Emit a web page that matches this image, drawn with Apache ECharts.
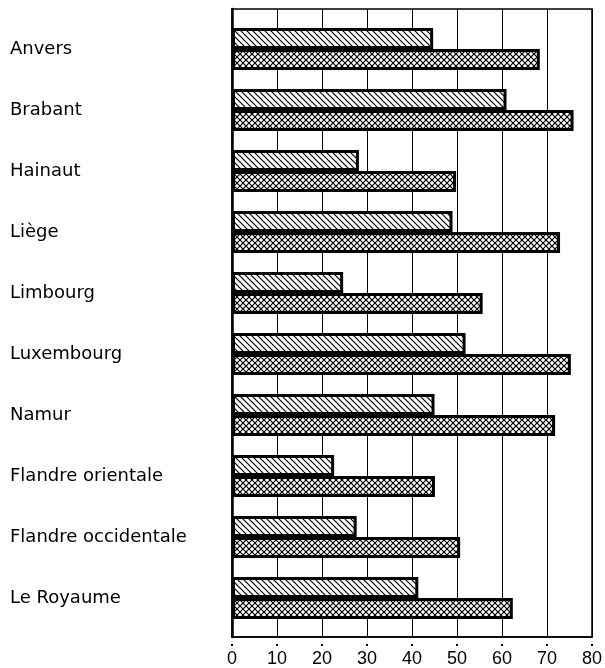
<!DOCTYPE html>
<html>
<head>
<meta charset="utf-8">
<script src="https://cdn.jsdelivr.net/npm/echarts@6/dist/echarts.min.js"></script>
<style>
  html, body { margin: 0; padding: 0; background: #fff; }
  #chart { width: 605px; height: 668px; }
</style>
</head>
<body>
<div id="chart"></div>
<script>
const provinces = ['Anvers', 'Brabant', 'Hainaut', 'Liège', 'Limbourg', 'Luxembourg',
  'Namur', 'Flandre orientale', 'Flandre occidentale', 'Le Royaume']
// hatched bars (upper) and cross-hatched bars (lower)
const hatchedValues = [44.7, 61.0, 28.2, 49.0, 24.7, 51.9, 45.0, 22.7, 27.7, 41.4]
const crossValues = [68.4, 75.9, 49.8, 72.9, 55.7, 75.3, 71.8, 45.1, 50.7, 62.4]
const xTicks = [0, 10, 20, 30, 40, 50, 60, 70, 80]

// pattern tiles drawn on small canvases
function hatchTile(size, width) {
  const c = document.createElement('canvas')
  c.width = size; c.height = size
  const ctx = c.getContext('2d')
  ctx.fillStyle = '#fff'
  ctx.fillRect(0, 0, size, size)
  ctx.strokeStyle = '#000'
  ctx.lineWidth = width
  ctx.beginPath()
  ctx.moveTo(-1, -1); ctx.lineTo(size + 1, size + 1)
  ctx.moveTo(-1, size - 1); ctx.lineTo(1, size + 1)
  ctx.moveTo(size - 1, -1); ctx.lineTo(size + 1, 1)
  ctx.stroke()
  return c
}
function crossTile(size, width) {
  const c = document.createElement('canvas')
  c.width = size; c.height = size
  const ctx = c.getContext('2d')
  ctx.fillStyle = '#fff'
  ctx.fillRect(0, 0, size, size)
  ctx.strokeStyle = '#000'
  ctx.lineWidth = width
  ctx.beginPath()
  ctx.moveTo(-1, -1); ctx.lineTo(size + 1, size + 1)
  ctx.moveTo(-1, size + 1); ctx.lineTo(size + 1, -1)
  ctx.stroke()
  return c
}

const chart = echarts.init(document.getElementById('chart'))
chart.setOption({
  animation: false,
  grid: [
    // bars
    { left: 232, right: 13, top: 18.5, height: 610 },
    // frame, grid lines and x labels
    { left: 232, right: 13, top: 9, bottom: 31, show: true, borderColor: '#000', borderWidth: 1.5, z: 0 }
  ],
  xAxis: [{
    gridIndex: 0,
    type: 'value',
    min: 0,
    max: 80,
    show: false
  }, {
    gridIndex: 1,
    type: 'value',
    min: 0,
    max: 80,
    interval: 10,
    axisLine: { show: true, lineStyle: { color: '#000', width: 1.5 } },
    axisTick: { show: true, length: 10, lineStyle: { color: '#000', width: 2, type: [0.1, 7, 2, 10] } },
    splitLine: { show: true, lineStyle: { color: '#000', width: 1 } },
    axisLabel: {
      margin: 13,
      color: '#000',
      fontFamily: 'Liberation Sans',
      fontSize: 18,
      formatter: v => xTicks.includes(v) ? String(v) : ''
    }
  }],
  yAxis: [{
    gridIndex: 0,
    type: 'category',
    inverse: true,
    data: provinces,
    axisLine: { show: false },
    axisTick: { show: false },
    splitLine: { show: false },
    axisLabel: {
      align: 'left',
      margin: 222,
      verticalAlign: 'middle',
      color: '#000',
      fontFamily: 'DejaVu Sans',
      fontSize: 18,
      padding: [0, 0, 3, 0]
    }
  }, {
    gridIndex: 1,
    type: 'value',
    min: 0,
    max: 1,
    axisLine: { show: true, lineStyle: { color: '#000', width: 2.5 } },
    axisTick: { show: false },
    axisLabel: { show: false },
    splitLine: { show: false }
  }],
  series: [{
    name: 'hatched',
    type: 'bar',
    xAxisIndex: 0,
    yAxisIndex: 0,
    data: hatchedValues,
    barWidth: 21,
    barGap: '0%',
    z: 3,
    itemStyle: {
      color: { image: hatchTile(6, 1.2), repeat: 'repeat' },
      borderColor: '#000',
      borderWidth: 3
    }
  }, {
    name: 'cross',
    type: 'bar',
    xAxisIndex: 0,
    yAxisIndex: 0,
    data: crossValues,
    barWidth: 21,
    barGap: '0%',
    z: 3,
    itemStyle: {
      color: { image: crossTile(6, 1.2), repeat: 'repeat' },
      borderColor: '#000',
      borderWidth: 3
    }
  }]
})
</script>
</body>
</html>
